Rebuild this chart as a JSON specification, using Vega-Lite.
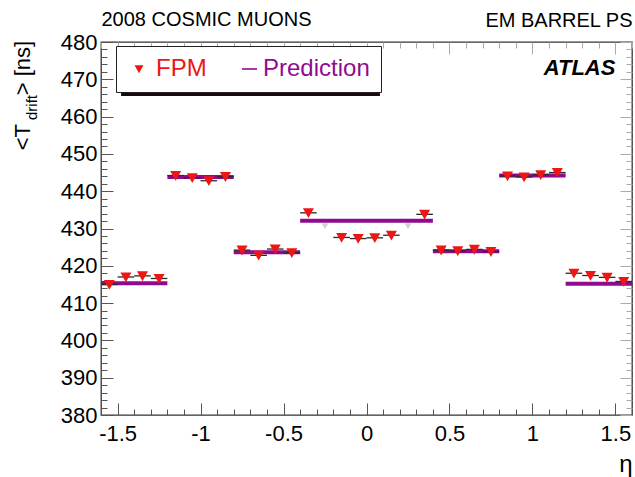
{
  "$schema": "https://vega.github.io/schema/vega-lite/v6.json",
  "width": 531,
  "height": 373,
  "autosize": "none",
  "padding": {"left": 101, "top": 42, "right": 3, "bottom": 62},
  "background": "white",
  "config": {
    "font": "Liberation Sans",
    "view": {"stroke": "#333333", "strokeWidth": 1.3},
    "axis": {"grid": false, "domain": false}
  },
  "datasets": {
    "fpm": [
      {"eta": -1.55, "eta_min": -1.6, "eta_max": -1.5, "t": 415.0, "err": 0.8, "series": "FPM"},
      {"eta": -1.45, "eta_min": -1.5, "eta_max": -1.4, "t": 417.0, "err": 0.8, "series": "FPM"},
      {"eta": -1.35, "eta_min": -1.4, "eta_max": -1.3, "t": 417.3, "err": 0.8, "series": "FPM"},
      {"eta": -1.25, "eta_min": -1.3, "eta_max": -1.2, "t": 416.6, "err": 0.8, "series": "FPM"},
      {"eta": -1.15, "eta_min": -1.2, "eta_max": -1.1, "t": 444.2, "err": 0.8, "series": "FPM"},
      {"eta": -1.05, "eta_min": -1.1, "eta_max": -1.0, "t": 443.6, "err": 0.8, "series": "FPM"},
      {"eta": -0.95, "eta_min": -1.0, "eta_max": -0.9, "t": 442.8, "err": 0.8, "series": "FPM"},
      {"eta": -0.85, "eta_min": -0.9, "eta_max": -0.8, "t": 443.9, "err": 0.8, "series": "FPM"},
      {"eta": -0.75, "eta_min": -0.8, "eta_max": -0.7, "t": 424.2, "err": 0.8, "series": "FPM"},
      {"eta": -0.65, "eta_min": -0.7, "eta_max": -0.6, "t": 422.8, "err": 0.8, "series": "FPM"},
      {"eta": -0.55, "eta_min": -0.6, "eta_max": -0.5, "t": 424.5, "err": 0.8, "series": "FPM"},
      {"eta": -0.45, "eta_min": -0.5, "eta_max": -0.4, "t": 423.5, "err": 0.8, "series": "FPM"},
      {"eta": -0.35, "eta_min": -0.4, "eta_max": -0.3, "t": 434.2, "err": 0.8, "series": "FPM"},
      {"eta": -0.15, "eta_min": -0.2, "eta_max": -0.1, "t": 427.6, "err": 0.8, "series": "FPM"},
      {"eta": -0.05, "eta_min": -0.1, "eta_max": 0.0, "t": 427.3, "err": 0.8, "series": "FPM"},
      {"eta": 0.05, "eta_min": 0.0, "eta_max": 0.1, "t": 427.5, "err": 0.8, "series": "FPM"},
      {"eta": 0.15, "eta_min": 0.1, "eta_max": 0.2, "t": 428.2, "err": 0.8, "series": "FPM"},
      {"eta": 0.35, "eta_min": 0.3, "eta_max": 0.4, "t": 433.8, "err": 0.8, "series": "FPM"},
      {"eta": 0.45, "eta_min": 0.4, "eta_max": 0.5, "t": 424.2, "err": 0.8, "series": "FPM"},
      {"eta": 0.55, "eta_min": 0.5, "eta_max": 0.6, "t": 424.0, "err": 0.8, "series": "FPM"},
      {"eta": 0.65, "eta_min": 0.6, "eta_max": 0.7, "t": 424.4, "err": 0.8, "series": "FPM"},
      {"eta": 0.75, "eta_min": 0.7, "eta_max": 0.8, "t": 423.8, "err": 0.8, "series": "FPM"},
      {"eta": 0.85, "eta_min": 0.8, "eta_max": 0.9, "t": 444.1, "err": 0.8, "series": "FPM"},
      {"eta": 0.95, "eta_min": 0.9, "eta_max": 1.0, "t": 443.8, "err": 0.8, "series": "FPM"},
      {"eta": 1.05, "eta_min": 1.0, "eta_max": 1.1, "t": 444.4, "err": 0.8, "series": "FPM"},
      {"eta": 1.15, "eta_min": 1.1, "eta_max": 1.2, "t": 445.0, "err": 0.8, "series": "FPM"},
      {"eta": 1.25, "eta_min": 1.2, "eta_max": 1.3, "t": 418.0, "err": 0.8, "series": "FPM"},
      {"eta": 1.35, "eta_min": 1.3, "eta_max": 1.4, "t": 417.4, "err": 0.8, "series": "FPM"},
      {"eta": 1.45, "eta_min": 1.4, "eta_max": 1.5, "t": 416.9, "err": 0.8, "series": "FPM"},
      {"eta": 1.55, "eta_min": 1.5, "eta_max": 1.6, "t": 415.8, "err": 0.8, "series": "FPM"}
    ],
    "fpm_faint": [
      {"eta": -0.25, "t": 430.6},
      {"eta": 0.25, "t": 430.6}
    ],
    "prediction": [
      {"eta_min": -1.6, "eta_max": -1.2, "t": 415.3},
      {"eta_min": -1.2, "eta_max": -0.8, "t": 443.8},
      {"eta_min": -0.8, "eta_max": -0.4, "t": 423.6},
      {"eta_min": -0.4, "eta_max": 0.4, "t": 432.1},
      {"eta_min": 0.4, "eta_max": 0.8, "t": 423.9},
      {"eta_min": 0.8, "eta_max": 1.2, "t": 444.2},
      {"eta_min": 1.2, "eta_max": 1.6, "t": 415.2}
    ]
  },
  "resolve": {"axis": {"x": "independent", "y": "independent"}},
  "layer": [
    {
      "data": {"name": "prediction"},
      "mark": {"type": "rule", "color": "#900a90", "strokeWidth": 4},
      "encoding": {
        "x": {
          "field": "eta_min", "type": "quantitative",
          "scale": {"domain": [-1.6, 1.6], "nice": false, "zero": false},
          "axis": {
            "orient": "bottom",
            "values": [-1.6,-1.5,-1.4,-1.3,-1.2,-1.1,-1.0,-0.9,-0.8,-0.7,-0.6,-0.5,-0.4,-0.3,-0.2,-0.1,0,0.1,0.2,0.3,0.4,0.5,0.6,0.7,0.8,0.9,1.0,1.1,1.2,1.3,1.4,1.5,1.6],
            "labelExpr": "abs(round(datum.value*10)) % 5 === 0 ? replace(format(datum.value, '~g'), '\u2212', '-') : ''",
            "tickSize": {"condition": {"test": "abs(round(datum.value*10)) % 5 === 0", "value": -12}, "value": -6},
            "tickColor": "#555555",
            "tickWidth": 1,
            "labelFontSize": 22,
            "labelColor": "black",
            "labelPadding": 20,
            "labelFlush": false,
            "title": "η",
            "titleFontSize": 24,
            "titleFontWeight": "normal",
            "titleColor": "black",
            "titleAnchor": "end",
            "titlePadding": 8
          }
        },
        "x2": {"field": "eta_max"},
        "y": {
          "field": "t", "type": "quantitative",
          "scale": {"domain": [380, 480], "nice": false, "zero": false},
          "axis": {
            "orient": "left",
            "values": [380,382,384,386,388,390,392,394,396,398,400,402,404,406,408,410,412,414,416,418,420,422,424,426,428,430,432,434,436,438,440,442,444,446,448,450,452,454,456,458,460,462,464,466,468,470,472,474,476,478,480],
            "labelExpr": "datum.value % 10 === 0 ? datum.label : ''",
            "tickSize": {"condition": {"test": "datum.value % 10 === 0", "value": -12}, "value": -6},
            "tickColor": "#555555",
            "tickWidth": 1,
            "labelFontSize": 22,
            "labelColor": "black",
            "labelPadding": 16,
            "labelFlush": false,
            "title": null
          }
        }
      }
    },
    {
      "data": {"name": "fpm"},
      "mark": {"type": "rule", "color": "#2a2a2a", "strokeWidth": 1.3},
      "encoding": {
        "x": {"field": "eta_min", "type": "quantitative", "scale": {"domain": [-1.6, 1.6], "nice": false, "zero": false}, "axis": null},
        "x2": {"field": "eta_max"},
        "y": {"field": "t", "type": "quantitative", "scale": {"domain": [380, 480], "nice": false, "zero": false}, "axis": null}
      }
    },
    {
      "data": {"name": "fpm"},
      "mark": {"type": "errorbar", "color": "#2a2a2a", "thickness": 1.3},
      "encoding": {
        "x": {"field": "eta", "type": "quantitative", "scale": {"domain": [-1.6, 1.6], "nice": false, "zero": false}, "axis": null},
        "y": {"field": "t", "type": "quantitative", "scale": {"domain": [380, 480], "nice": false, "zero": false}, "axis": null},
        "yError": {"field": "err"}
      }
    },
    {
      "data": {"name": "fpm_faint"},
      "mark": {"type": "point", "shape": "triangle-down", "filled": true, "size": 50, "color": "#b0a0a8", "opacity": 0.5},
      "encoding": {
        "x": {
          "field": "eta", "type": "quantitative",
          "scale": {"domain": [-1.6, 1.6], "nice": false, "zero": false},
          "axis": {
            "orient": "top",
            "values": [-1.6,-1.5,-1.4,-1.3,-1.2,-1.1,-1.0,-0.9,-0.8,-0.7,-0.6,-0.5,-0.4,-0.3,-0.2,-0.1,0,0.1,0.2,0.3,0.4,0.5,0.6,0.7,0.8,0.9,1.0,1.1,1.2,1.3,1.4,1.5,1.6],
            "labels": false,
            "tickSize": {"condition": {"test": "abs(round(datum.value*10)) % 5 === 0", "value": -12}, "value": -6},
            "tickColor": "#aaaaaa",
            "tickWidth": 1,
            "title": "2008 COSMIC MUONS",
            "titleFontSize": 20,
            "titleFontWeight": "normal",
            "titleColor": "black",
            "titleAnchor": "start",
            "titlePadding": 12
          }
        },
        "y": {
          "field": "t", "type": "quantitative",
          "scale": {"domain": [380, 480], "nice": false, "zero": false},
          "axis": {
            "orient": "right",
            "values": [380,382,384,386,388,390,392,394,396,398,400,402,404,406,408,410,412,414,416,418,420,422,424,426,428,430,432,434,436,438,440,442,444,446,448,450,452,454,456,458,460,462,464,466,468,470,472,474,476,478,480],
            "labels": false,
            "tickSize": {"condition": {"test": "datum.value % 10 === 0", "value": -12}, "value": -6},
            "tickColor": "#aaaaaa",
            "tickWidth": 1,
            "title": null
          }
        }
      }
    },
    {
      "data": {"name": "fpm"},
      "mark": {"type": "point", "filled": true, "size": 600, "opacity": 1},
      "encoding": {
        "x": {
          "field": "eta", "type": "quantitative",
          "scale": {"domain": [-1.6, 1.6], "nice": false, "zero": false},
          "axis": {
            "orient": "top",
            "ticks": false,
            "labels": false,
            "title": "EM BARREL PS",
            "titleFontSize": 20,
            "titleFontWeight": "normal",
            "titleColor": "black",
            "titleAnchor": "end",
            "titlePadding": 12
          }
        },
        "y": {"field": "t", "type": "quantitative", "scale": {"domain": [380, 480], "nice": false, "zero": false}, "axis": null},
        "color": {
          "field": "series", "type": "nominal",
          "scale": {"domain": ["FPM", "Prediction"], "range": ["#ee1515", "#900a90"]},
          "legend": {
            "orient": "none", "legendX": 15, "legendY": 4, "direction": "horizontal",
            "title": null, "fillColor": "white", "strokeColor": "#222222",
            "padding": 11, "labelFontSize": 24, "symbolSize": 400,
            "columnPadding": 27, "labelOffset": 5,
            "labelColor": {"expr": "datum.value === 'FPM' ? '#ee1515' : '#900a90'"}
          }
        },
        "shape": {
          "field": "series", "type": "nominal",
          "scale": {"domain": ["FPM", "Prediction"], "range": ["M-0.45,-0.37L0.45,-0.37L0,0.43Z", "M-0.4,-0.08L1.1,-0.08L1.1,0.08L-0.4,0.08Z"]},
          "legend": {
            "orient": "none", "legendX": 15, "legendY": 4, "direction": "horizontal",
            "title": null, "fillColor": "white", "strokeColor": "#222222",
            "padding": 11, "labelFontSize": 24, "symbolSize": 400,
            "columnPadding": 27, "labelOffset": 5,
            "labelColor": {"expr": "datum.value === 'FPM' ? '#ee1515' : '#900a90'"}
          }
        }
      }
    },
    {
      "data": {"values": [{"label": "legend shadow"}]},
      "mark": {"type": "rect", "color": "#1a0814"},
      "encoding": {
        "x": {"datum": -1.479, "type": "quantitative", "scale": {"domain": [-1.6, 1.6], "nice": false, "zero": false}, "axis": null},
        "x2": {"datum": 0.081},
        "y": {"datum": 477.86, "type": "quantitative", "scale": {"domain": [380, 480], "nice": false, "zero": false}, "axis": null},
        "y2": {"datum": 465.5}
      }
    },
    {
      "data": {"values": [{"label": "ATLAS"}]},
      "mark": {"type": "text", "fontSize": 22, "fontWeight": "bold", "fontStyle": "italic", "align": "right", "baseline": "middle", "color": "black"},
      "encoding": {
        "x": {"datum": 1.5, "type": "quantitative", "scale": {"domain": [-1.6, 1.6], "nice": false, "zero": false}, "axis": null},
        "y": {"datum": 473, "type": "quantitative", "scale": {"domain": [380, 480], "nice": false, "zero": false}, "axis": null},
        "text": {"field": "label"}
      }
    },
    {
      "data": {"values": [{"label": "> [ns]"}]},
      "mark": {"type": "text", "fontSize": 22, "angle": 270, "align": "right", "baseline": "middle", "color": "black"},
      "encoding": {
        "x": {"datum": -2.07, "type": "quantitative", "scale": {"domain": [-1.6, 1.6], "nice": false, "zero": false}, "axis": null},
        "y": {"datum": 480.3, "type": "quantitative", "scale": {"domain": [380, 480], "nice": false, "zero": false}, "axis": null},
        "text": {"field": "label"}
      }
    },
    {
      "data": {"values": [{"label": "drift"}]},
      "mark": {"type": "text", "fontSize": 15, "angle": 270, "align": "right", "baseline": "middle", "color": "black"},
      "encoding": {
        "x": {"datum": -2.013, "type": "quantitative", "scale": {"domain": [-1.6, 1.6], "nice": false, "zero": false}, "axis": null},
        "y": {"datum": 465.8, "type": "quantitative", "scale": {"domain": [380, 480], "nice": false, "zero": false}, "axis": null},
        "text": {"field": "label"}
      }
    },
    {
      "data": {"values": [{"label": "<T"}]},
      "mark": {"type": "text", "fontSize": 22, "angle": 270, "align": "right", "baseline": "middle", "color": "black"},
      "encoding": {
        "x": {"datum": -2.07, "type": "quantitative", "scale": {"domain": [-1.6, 1.6], "nice": false, "zero": false}, "axis": null},
        "y": {"datum": 458.0, "type": "quantitative", "scale": {"domain": [380, 480], "nice": false, "zero": false}, "axis": null},
        "text": {"field": "label"}
      }
    }
  ]
}
